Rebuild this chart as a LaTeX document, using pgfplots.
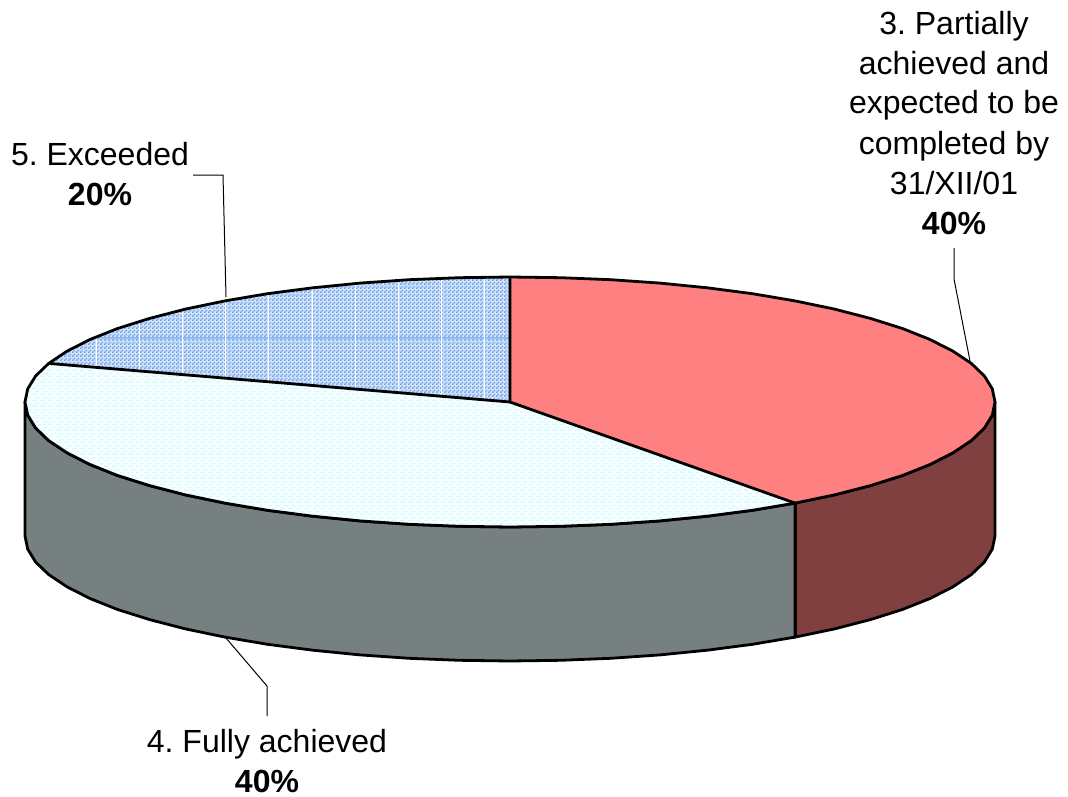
\documentclass[border=0pt]{standalone}
\usepackage{pgfplots}
\pgfplotsset{compat=1.18}
\usepackage{fontspec}
\setmainfont{Liberation Sans}
\usetikzlibrary{patterns}
\frenchspacing
\definecolor{sliceRed}{HTML}{FF8080}
\definecolor{sideRed}{HTML}{804040}
\definecolor{sideGrey}{HTML}{778080}
\definecolor{paleCyan}{HTML}{F6FFFF}
\definecolor{cyanDash}{HTML}{D6F8FF}
\definecolor{paleBlue}{HTML}{CFE2FA}
\definecolor{checkBlue}{HTML}{74A6E8}
\definecolor{bandBlue}{HTML}{90BAEE}
% two-pixel checker for the blue slice
\pgfdeclarepatternformonly{bluechecker}{\pgfpointorigin}{\pgfqpoint{4pt}{4pt}}{\pgfqpoint{4pt}{4pt}}{%
  \pgfpathrectangle{\pgfqpoint{0pt}{0pt}}{\pgfqpoint{2pt}{2pt}}%
  \pgfpathrectangle{\pgfqpoint{2pt}{2pt}}{\pgfqpoint{2pt}{2pt}}%
  \pgfusepath{fill}}
% staggered dashes for the pale slice
\pgfdeclarepatternformonly{paledashes}{\pgfpointorigin}{\pgfqpoint{8pt}{6pt}}{\pgfqpoint{8pt}{6pt}}{%
  \pgfpathrectangle{\pgfqpoint{0pt}{0pt}}{\pgfqpoint{5pt}{1.5pt}}%
  \pgfpathrectangle{\pgfqpoint{4pt}{3pt}}{\pgfqpoint{4pt}{1.5pt}}%
  \pgfusepath{fill}}
\tikzset{lbl/.style={anchor=base, inner sep=0pt, font=\fontsize{32}{36}\selectfont},
         lblb/.style={lbl, font=\fontsize{32}{36}\selectfont\bfseries}}
\begin{document}
\begin{tikzpicture}
\path[use as bounding box] (0,0) rectangle (1068pt,797pt);
\begin{axis}[
  at={(0,0)}, anchor=south west,
  scale only axis, width=1068pt, height=797pt,
  xmin=0, xmax=1068, ymin=0, ymax=797, y dir=reverse,
  hide axis, clip=false,
  every axis plot/.append style={no markers, line join=round},
]
% side wall of the 40% red slice
\addplot[fill=sideRed, draw=black, line width=2.8pt] coordinates {
 (995,402) (992.3,415.1) (984.4,428) (971.3,440.6) (953,452.8) (930,464.5) (902.4,475.5) (870.4,485.6) (834.5,494.9) (795.1,503.1)
 (795.1,637.1) (834.5,628.9) (870.4,619.6) (902.4,609.5) (930,598.5) (953,586.8) (971.3,574.6) (984.4,562) (992.3,549.1) (995,536)
} -- cycle;
% side wall of the 40% pale slice
\addplot[fill=sideGrey, draw=black, line width=2.8pt] coordinates {
 (795.1,503.1) (752.5,510.3) (707.2,516.2) (659.9,520.9) (610.8,524.3) (560.7,526.3) (510,527) (459.3,526.3) (409.2,524.3) (360.1,520.9) (312.8,516.2) (267.5,510.3) (224.9,503.1) (185.5,494.9) (149.6,485.6) (117.6,475.5) (90,464.5) (67,452.8) (48.7,440.6) (35.6,428) (27.7,415.1) (25,402)
 (25,536) (27.7,549.1) (35.6,562) (48.7,574.6) (67,586.8) (90,598.5) (117.6,609.5) (149.6,619.6) (185.5,628.9) (224.9,637.1) (267.5,644.3) (312.8,650.2) (360.1,654.9) (409.2,658.3) (459.3,660.3) (510,661) (560.7,660.3) (610.8,658.3) (659.9,654.9) (707.2,650.2) (752.5,644.3) (795.1,637.1)
} -- cycle;
% top of the pale slice: 40%, from 144 to 288 degrees
\addplot[fill=paleCyan, draw=none] coordinates {
 (510,402) (795.1,503.1) (752.5,510.3) (707.2,516.2) (659.9,520.9) (610.8,524.3) (560.7,526.3) (510,527) (459.3,526.3) (409.2,524.3) (360.1,520.9) (312.8,516.2) (267.5,510.3) (224.9,503.1) (185.5,494.9) (149.6,485.6) (117.6,475.5) (90,464.5) (67,452.8) (48.7,440.6) (35.6,428) (27.7,415.1) (25,402) (27.7,388.9) (35.6,376) (48.7,363.4)
} -- cycle;
\addplot[pattern=paledashes, pattern color=cyanDash, draw=none] coordinates {
 (510,402) (795.1,503.1) (752.5,510.3) (707.2,516.2) (659.9,520.9) (610.8,524.3) (560.7,526.3) (510,527) (459.3,526.3) (409.2,524.3) (360.1,520.9) (312.8,516.2) (267.5,510.3) (224.9,503.1) (185.5,494.9) (149.6,485.6) (117.6,475.5) (90,464.5) (67,452.8) (48.7,440.6) (35.6,428) (27.7,415.1) (25,402) (27.7,388.9) (35.6,376) (48.7,363.4)
} -- cycle;
\addplot[white, line width=0.8pt] coordinates {
 (53,363.8) (53,443.9)

 (96,367.4) (96,467.1)

 (139,371) (139,482.5)

 (182,374.6) (182,494.1)

 (225,378.2) (225,503.1)

 (268,381.7) (268,510.3)

 (312,385.4) (312,516.1)

 (355,389) (355,520.5)

 (398,392.6) (398,523.6)

 (441,396.2) (441,525.7)

 (484,399.8) (484,526.8)

 (527,408) (527,526.9)

 (570,423.3) (570,526)

 (613,438.5) (613,524.1)

 (656,453.8) (656,521.2)

 (699,469) (699,517.1)

 (742,484.3) (742,511.8)

 (785,499.5) (785,505)
};
% top of the blue slice: 20%, from 288 to 360 degrees
\addplot[fill=paleBlue, draw=none] coordinates {
 (510,402) (48.7,363.4) (67,351.2) (90,339.5) (117.6,328.5) (149.6,318.4) (185.5,309.1) (224.9,300.9) (267.5,293.7) (312.8,287.8) (360.1,283.1) (409.2,279.7) (459.3,277.7) (510,277)
} -- cycle;
\addplot[pattern=bluechecker, pattern color=checkBlue, draw=none] coordinates {
 (510,402) (48.7,363.4) (67,351.2) (90,339.5) (117.6,328.5) (149.6,318.4) (185.5,309.1) (224.9,300.9) (267.5,293.7) (312.8,287.8) (360.1,283.1) (409.2,279.7) (459.3,277.7) (510,277)
} -- cycle;
\addplot[bandBlue, line width=2pt] coordinates {(93.4,338) (510,338)};
\addplot[white, line width=1pt] coordinates {
 (96,336.9) (96,367.4)

 (139,321.5) (139,371)

 (182,309.9) (182,374.6)

 (225,300.9) (225,378.2)

 (268,293.7) (268,381.7)

 (312,287.9) (312,385.4)

 (355,283.6) (355,389)

 (398,280.4) (398,392.6)

 (441,278.3) (441,396.2)

 (484,277.2) (484,399.8)
};
% top of the red slice: 40%, from 0 to 144 degrees
\addplot[fill=sliceRed, draw=none] coordinates {
 (510,402) (510,277) (560.7,277.7) (610.8,279.7) (659.9,283.1) (707.2,287.8) (752.5,293.7) (795.1,300.9) (834.5,309.1) (870.4,318.4) (902.4,328.5) (930,339.5) (953,351.2) (971.3,363.4) (984.4,376) (992.3,388.9) (995,402) (992.3,415.1) (984.4,428) (971.3,440.6) (953,452.8) (930,464.5) (902.4,475.5) (870.4,485.6) (834.5,494.9) (795.1,503.1)
} -- cycle;
% outline of the top face and the slice borders
\addplot[draw=black, line width=2.8pt] coordinates {
 (510,277) (560.7,277.7) (610.8,279.7) (659.9,283.1) (707.2,287.8) (752.5,293.7) (795.1,300.9) (834.5,309.1) (870.4,318.4) (902.4,328.5) (930,339.5) (953,351.2) (971.3,363.4) (984.4,376) (992.3,388.9) (995,402) (992.3,415.1) (984.4,428) (971.3,440.6) (953,452.8) (930,464.5) (902.4,475.5) (870.4,485.6) (834.5,494.9) (795.1,503.1) (752.5,510.3) (707.2,516.2) (659.9,520.9) (610.8,524.3) (560.7,526.3) (510,527) (459.3,526.3) (409.2,524.3) (360.1,520.9) (312.8,516.2) (267.5,510.3) (224.9,503.1) (185.5,494.9) (149.6,485.6) (117.6,475.5) (90,464.5) (67,452.8) (48.7,440.6) (35.6,428) (27.7,415.1) (25,402) (27.7,388.9) (35.6,376) (48.7,363.4) (67,351.2) (90,339.5) (117.6,328.5) (149.6,318.4) (185.5,309.1) (224.9,300.9) (267.5,293.7) (312.8,287.8) (360.1,283.1) (409.2,279.7) (459.3,277.7)
} -- cycle;
\addplot[draw=black, line width=2.8pt] coordinates {(510,277) (510,402) (795.1,503.1)};
\addplot[draw=black, line width=2.8pt] coordinates {(510,402) (48.7,363.4)};
% leader lines
\addplot[black, line width=1pt, line join=miter] coordinates {(954,248) (954,279) (970,361)};
\addplot[black, line width=1pt, line join=miter] coordinates {(193,175) (223,175) (226,297)};
\addplot[black, line width=1pt, line join=miter] coordinates {(226,638) (267,686) (267,716)};
% slice labels
\node[lbl] at (axis cs:954,35) {3. Partially};
\node[lbl] at (axis cs:954,74.5) {achieved and};
\node[lbl] at (axis cs:954,114) {expected to be};
\node[lbl] at (axis cs:954,154) {completed by};
\node[lbl] at (axis cs:954,194) {31/XII/01};
\node[lblb] at (axis cs:954,234) {40\%};
\node[lbl] at (axis cs:100,165) {5. Exceeded};
\node[lblb] at (axis cs:100,205) {20\%};
\node[lbl] at (axis cs:267,752) {4. Fully achieved};
\node[lblb] at (axis cs:267,792) {40\%};
\end{axis}
\end{tikzpicture}
\end{document}
